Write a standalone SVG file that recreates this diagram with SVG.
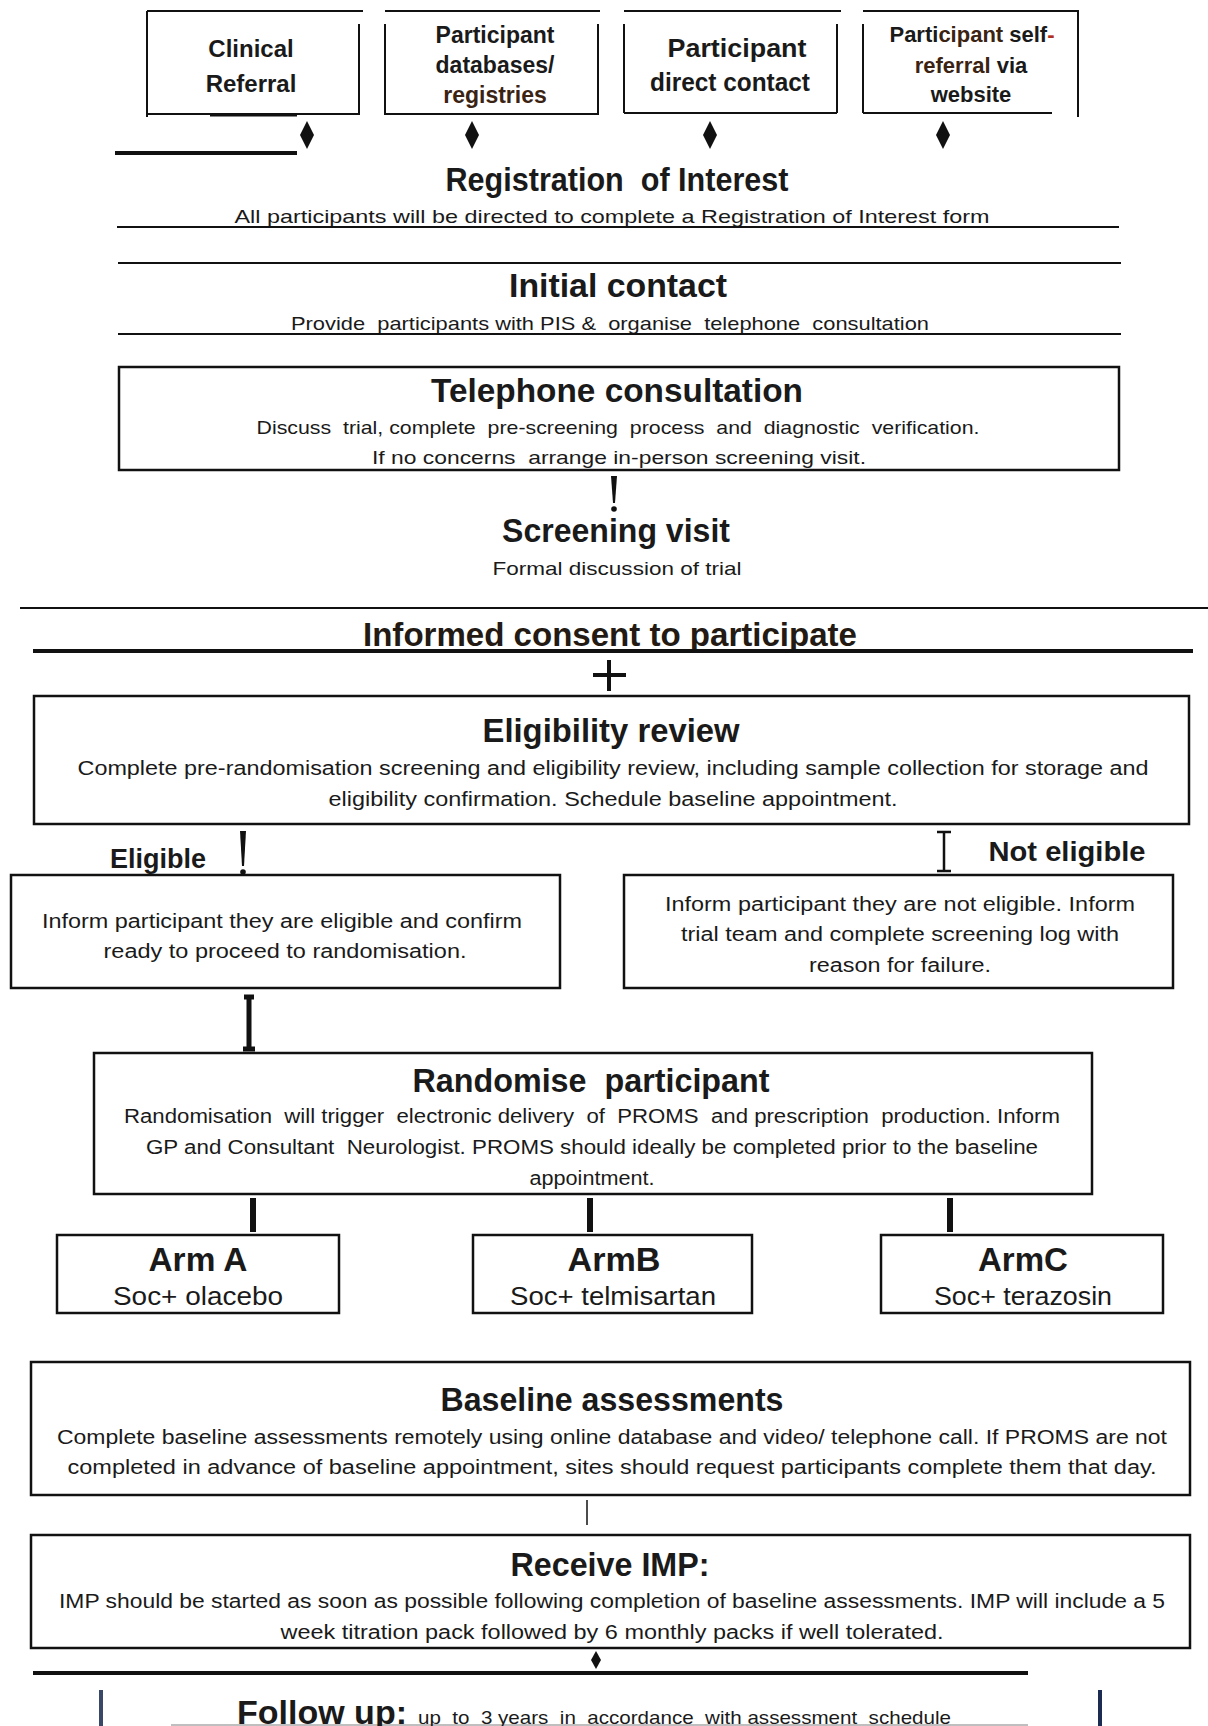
<svg xmlns="http://www.w3.org/2000/svg" width="1208" height="1726" viewBox="0 0 1208 1726">
<style>
text{font-family:"Liberation Sans",Arial,sans-serif;fill:#1a1a1a;text-anchor:middle;white-space:pre}
.b{font-weight:bold}
.ln{stroke:#111;stroke-width:2;fill:none}
.thk{stroke:#111;stroke-width:4;fill:none}
.box{fill:none;stroke:#111;stroke-width:2.5}
.br{fill:#3b2314}
.t24{font-size:24px}
.h{font-size:33px;font-weight:bold}
.p{font-size:20px}
.s{font-size:19px}
</style>
<defs>
<path id="dia" d="M0,-14 L7,0 L0,14 L-7,0 Z" fill="#111"/>
</defs>
<rect width="1208" height="1726" fill="#fff"/>

<g id="src-clinical">
<path class="ln" d="M147,11 H363 M147,11 V117 M359,24 V115 M147,114 H359"/>
<path d="M210,115 H297" stroke="#111" stroke-width="3"/>
<text class="b t24" x="251" y="57">Clinical</text>
<text class="b t24" x="251" y="92">Referral</text>
</g>

<g id="src-databases">
<path class="ln" d="M385,11 H600 M385,24 V115 M598,24 V115 M385,114 H598"/>
<text class="b" font-size="23" x="495" y="43">Participant</text>
<text class="b" font-size="23" x="495" y="73">databases/</text>
<text class="b br" font-size="23" x="495" y="103">registries</text>
</g>

<g id="src-direct">
<path class="ln" d="M624,11 H841 M624,24 V113 M837,24 V113 M624,113 H837"/>
<text class="b" font-size="26" x="737" y="57" textLength="139" lengthAdjust="spacingAndGlyphs">Participant</text>
<text class="b" font-size="26" x="730" y="91" textLength="160" lengthAdjust="spacingAndGlyphs">direct contact</text>
</g>

<g id="src-self">
<path class="ln" d="M863,11 H1078 V117 M863,24 V113 M863,113 H1052"/>
<text class="b" font-size="22" x="972" y="42">Parti<tspan class="br">cipant</tspan> self<tspan fill="#b03020">-</tspan></text>
<text class="b" font-size="22" x="971" y="73"><tspan class="br">referral</tspan> via</text>
<text class="b" font-size="22" x="971" y="102">website</text>
</g>

<g id="registration">
<text class="h" x="617" y="191" textLength="343" lengthAdjust="spacingAndGlyphs">Registration  of Interest</text>
<text class="s" font-size="18" x="612" y="223" textLength="755" lengthAdjust="spacingAndGlyphs">All participants will be directed to complete a Registration of Interest form</text>
<path class="ln" d="M117,227 H1119"/>
</g>

<g id="initial-contact">
<path class="ln" d="M118,263 H1121"/>
<text class="h" font-size="32" x="618" y="297" textLength="218" lengthAdjust="spacingAndGlyphs">Initial contact</text>
<text class="s" x="610" y="330" textLength="638" lengthAdjust="spacingAndGlyphs">Provide  participants with PIS &amp;  organise  telephone  consultation</text>
<path class="ln" d="M118,334 H1121"/>
</g>

<g id="telephone">
<rect class="box" x="119" y="367" width="1000" height="103"/>
<text class="h" x="617" y="402" textLength="372" lengthAdjust="spacingAndGlyphs">Telephone consultation</text>
<text class="s" x="618" y="434" textLength="723" lengthAdjust="spacingAndGlyphs">Discuss  trial, complete  pre-screening  process  and  diagnostic  verification.</text>
<text class="s" x="619" y="464" textLength="494" lengthAdjust="spacingAndGlyphs">If no concerns  arrange in-person screening visit.</text>
</g>

<g id="screening">
<text class="h" font-size="32" x="616" y="542" textLength="228" lengthAdjust="spacingAndGlyphs">Screening visit</text>
<text class="s" x="617" y="575" textLength="249" lengthAdjust="spacingAndGlyphs">Formal discussion of trial</text>
</g>

<g id="consent">
<path class="ln" d="M20,608 H1208"/>
<text class="h" x="610" y="646" style="fill:#231a14" textLength="494" lengthAdjust="spacingAndGlyphs">Informed consent to participate</text>
<path class="thk" d="M33,651 H1193"/>
</g>

<g id="eligibility">
<rect class="box" stroke-width="3" x="34" y="696" width="1155" height="128"/>
<text class="h" x="611" y="742" textLength="257" lengthAdjust="spacingAndGlyphs">Eligibility review</text>
<text class="p" x="613" y="775" textLength="1071" lengthAdjust="spacingAndGlyphs">Complete pre-randomisation screening and eligibility review, including sample collection for storage and</text>
<text class="p" x="613" y="806" textLength="569" lengthAdjust="spacingAndGlyphs">eligibility confirmation. Schedule baseline appointment.</text>
</g>

<g id="eligible">
<text class="b" font-size="27" x="158" y="868" textLength="96" lengthAdjust="spacingAndGlyphs">Eligible</text>
<rect class="box" x="11" y="875" width="549" height="113"/>
<text class="p" x="282" y="928" textLength="480" lengthAdjust="spacingAndGlyphs">Inform participant they are eligible and confirm</text>
<text class="p" x="285" y="958" textLength="363" lengthAdjust="spacingAndGlyphs">ready to proceed to randomisation.</text>
</g>

<g id="not-eligible">
<text class="b" font-size="28" x="1067" y="861" textLength="157" lengthAdjust="spacingAndGlyphs">Not eligible</text>
<rect class="box" x="624" y="875" width="549" height="113"/>
<text class="p" x="900" y="911" textLength="470" lengthAdjust="spacingAndGlyphs">Inform participant they are not eligible. Inform</text>
<text class="p" x="900" y="941" textLength="438" lengthAdjust="spacingAndGlyphs">trial team and complete screening log with</text>
<text class="p" x="900" y="972" textLength="182" lengthAdjust="spacingAndGlyphs">reason for failure.</text>
</g>

<g id="randomise">
<rect class="box" x="94" y="1053" width="998" height="141"/>
<text class="h" font-size="32" x="591" y="1092" textLength="357" lengthAdjust="spacingAndGlyphs">Randomise  participant</text>
<text class="p" x="592" y="1123" textLength="936" lengthAdjust="spacingAndGlyphs">Randomisation  will trigger  electronic delivery  of  PROMS  and prescription  production. Inform</text>
<text class="p" x="592" y="1154" textLength="892" lengthAdjust="spacingAndGlyphs">GP and Consultant  Neurologist. PROMS should ideally be completed prior to the baseline</text>
<text class="p" x="592" y="1185" textLength="125" lengthAdjust="spacingAndGlyphs">appointment.</text>
</g>

<g id="arm-a">
<rect class="box" x="57" y="1235" width="282" height="78"/>
<text class="h" x="198" y="1271" textLength="99" lengthAdjust="spacingAndGlyphs">Arm A</text>
<text font-size="25" x="198" y="1305" textLength="170" lengthAdjust="spacingAndGlyphs">Soc+ olacebo</text>
</g>
<g id="arm-b">
<rect class="box" x="473" y="1235" width="279" height="78"/>
<text class="h" x="614" y="1271" textLength="93" lengthAdjust="spacingAndGlyphs">ArmB</text>
<text font-size="25" x="613" y="1305" textLength="206" lengthAdjust="spacingAndGlyphs">Soc+ telmisartan</text>
</g>
<g id="arm-c">
<rect class="box" x="881" y="1235" width="282" height="78"/>
<text class="h" x="1023" y="1271" textLength="90" lengthAdjust="spacingAndGlyphs">ArmC</text>
<text font-size="25" x="1023" y="1305" textLength="178" lengthAdjust="spacingAndGlyphs">Soc+ terazosin</text>
</g>

<g id="baseline">
<rect class="box" x="31" y="1362" width="1159" height="133"/>
<text class="h" font-size="32" x="612" y="1411" textLength="343" lengthAdjust="spacingAndGlyphs">Baseline assessments</text>
<text class="p" x="612" y="1444" textLength="1110" lengthAdjust="spacingAndGlyphs">Complete baseline assessments remotely using online database and video/ telephone call. If PROMS are not</text>
<text class="p" x="612" y="1474" textLength="1089" lengthAdjust="spacingAndGlyphs">completed in advance of baseline appointment, sites should request participants complete them that day.</text>
</g>

<g id="receive-imp">
<rect class="box" x="31" y="1535" width="1159" height="113"/>
<text class="h" font-size="32" x="610" y="1576" textLength="199" lengthAdjust="spacingAndGlyphs">Receive IMP:</text>
<text class="p" x="612" y="1608" textLength="1106" lengthAdjust="spacingAndGlyphs">IMP should be started as soon as possible following completion of baseline assessments. IMP will include a 5</text>
<text class="p" x="612" y="1639" textLength="663" lengthAdjust="spacingAndGlyphs">week titration pack followed by 6 monthly packs if well tolerated.</text>
</g>

<g id="follow-up">
<rect x="99" y="1690" width="4" height="36" fill="#3a4868"/>
<rect x="1098" y="1690" width="4" height="36" fill="#1b2b52"/>
<path d="M171,1725 H1028" stroke="#aaa" stroke-width="1.5"/>
<text class="b" font-size="34" x="237" y="1724" style="text-anchor:start" textLength="170" lengthAdjust="spacingAndGlyphs">Follow up:</text>
<text class="s" x="418" y="1724" style="text-anchor:start" textLength="533" lengthAdjust="spacingAndGlyphs">up  to  3 years  in  accordance  with assessment  schedule</text>
</g>

<g id="connectors">
<use href="#dia" x="307" y="135"/>
<use href="#dia" x="472" y="135"/>
<use href="#dia" x="710" y="135"/>
<use href="#dia" x="943" y="135"/>
<path class="thk" d="M115,153 H297"/>
<path d="M611,476 L617,476 L615,503 L613,503 Z" fill="#111"/>
<circle cx="614" cy="509" r="2.8" fill="#111"/>
<path d="M609,660 V691 M593,675 H626" class="thk"/>
<path d="M240,831 L246,831 L244,866 L242,866 Z" fill="#111"/>
<circle cx="243" cy="872" r="2.8" fill="#111"/>
<path d="M944,832 V871 M937,832 H951 M937,871 H951" stroke="#111" stroke-width="2.5" fill="none"/>
<path d="M249,997 V1049 M244,997 H254 M243,1049 H255" stroke="#111" stroke-width="5" fill="none"/>
<rect x="250" y="1198" width="6" height="34" fill="#111"/>
<rect x="587" y="1198" width="6" height="34" fill="#111"/>
<rect x="947" y="1198" width="6" height="34" fill="#111"/>
<path d="M587,1500 V1525" stroke="#111" stroke-width="1.5"/>
<path d="M596,1651 L601,1660 L596,1669 L591,1660 Z" fill="#111"/>
<path class="thk" d="M33,1673 H1028"/>
</g>
</svg>
